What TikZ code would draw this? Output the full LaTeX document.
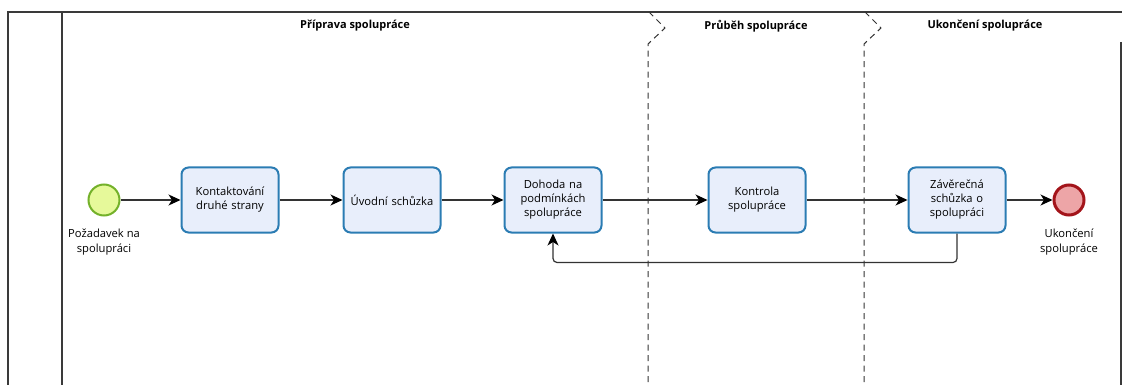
\documentclass[tikz,border=0pt]{standalone}
\usepackage{fontspec}
\setmainfont{Open Sans}
\usetikzlibrary{arrows.meta}
\definecolor{taskline}{HTML}{2B7CB3}
\definecolor{taskfill}{HTML}{E8EEFB}
\definecolor{startline}{HTML}{74B12A}
\definecolor{startfill}{HTML}{E6F99A}
\definecolor{endline}{HTML}{A3141A}
\definecolor{endfill}{HTML}{EDA5A7}
\definecolor{frameline}{HTML}{3A3A3A}
\definecolor{flowline}{HTML}{333333}
\tikzset{
  x=1pt, y=-1pt,
  task/.style={draw=taskline, fill=taskfill, line width=2pt, rounded corners=7pt,
    minimum width=97pt, minimum height=65pt, text width=88pt, align=center,
    font=\fontsize{11.2}{14}\selectfont, inner sep=0pt},
  startev/.style={circle, draw=startline, fill=startfill, line width=2pt,
    minimum size=31pt, inner sep=0pt},
  endev/.style={circle, draw=endline, fill=endfill, line width=3pt,
    minimum size=30pt, inner sep=0pt},
  evlabel/.style={align=center, font=\fontsize{11.2}{14.5}\selectfont, inner sep=0pt},
  flow/.style={draw=flowline, line width=1.2pt,
    -{Stealth[length=12pt, width=11pt, inset=3.5pt, color=black]}},
  lane/.style={draw=frameline, line width=1.2pt},
  phase/.style={draw=black!80, line width=1pt, dash pattern=on 6pt off 4.5pt},
  phasetitle/.style={font=\bfseries\fontsize{11}{13}\selectfont, inner sep=0pt}
}
\begin{document}
\begin{tikzpicture}
\useasboundingbox (0,0) rectangle (1122,385);

% pool frame and lane header
\draw[lane] (8,385) -- (8,12) -- (1122,12);
\draw[lane] (62,12) -- (62,385);
\draw[lane] (1121,42) -- (1121,385);

% phase separators
\draw[phase] (649,12) -- (665,28) -- (648,44) -- (648,385);
\draw[phase] (865,12) -- (881,28) -- (864,44) -- (864,385);

% phase titles
\node[phasetitle] (p1) at (355,26) {Příprava spolupráce};
\node[phasetitle] (p2) at (756,26) {Průběh spolupráce};
\node[phasetitle] (p3) at (985,26) {Ukončení spolupráce};

% events and tasks
\node[startev] (start) at (104,200) {};
\node[evlabel, anchor=north] (startlbl) at (104,229) {Požadavek na\\spolupráci};
\node[task] (t1) at (230,200) {Kontaktování\\druhé strany};
\node[task] (t2) at (392,200) {Úvodní schůzka};
\node[task] (t3) at (553,200) {Dohoda na\\podmínkách\\spolupráce};
\node[task] (t4) at (757,200) {Kontrola\\spolupráce};
\node[task] (t5) at (957,200) {Závěrečná\\schůzka o\\spolupráci};
\node[endev] (end) at (1069,200) {};
\node[evlabel, anchor=north] (endlbl) at (1069,229) {Ukončení\\spolupráce};

% sequence flows
\draw[flow] (start) -- (t1);
\draw[flow] (t1) -- (t2);
\draw[flow] (t2) -- (t3);
\draw[flow] (t3) -- (t4);
\draw[flow] (t4) -- (t5);
\draw[flow] (t5) -- (end);
\draw[flow, rounded corners=4pt] (t5.south) -- ++(0,29) -| (t3.south);
\end{tikzpicture}
\end{document}
